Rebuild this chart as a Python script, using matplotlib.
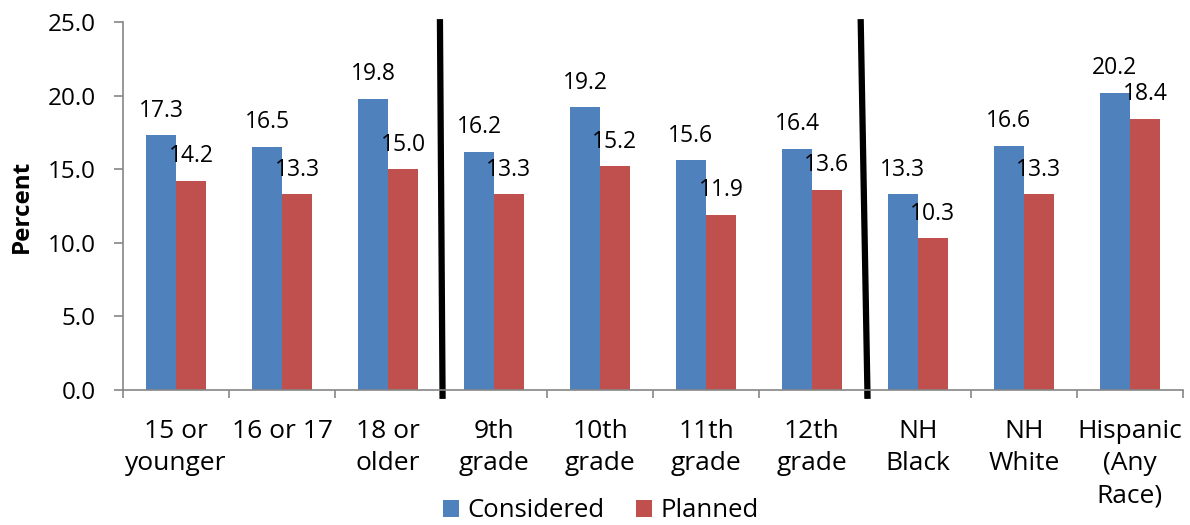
import numpy as np
import matplotlib.pyplot as plt
from matplotlib.lines import Line2D

plt.rcParams['font.family'] = ['Open Sans', 'DejaVu Sans']

categories = ['15 or\nyounger', '16 or 17', '18 or\nolder',
              '9th\ngrade', '10th\ngrade', '11th\ngrade', '12th\ngrade',
              'NH\nBlack', 'NH\nWhite', 'Hispanic\n(Any\nRace)']
considered = [17.3, 16.5, 19.8, 16.2, 19.2, 15.6, 16.4, 13.3, 16.6, 20.2]
planned = [14.2, 13.3, 15.0, 13.3, 15.2, 11.9, 13.6, 10.3, 13.3, 18.4]
group_sizes = [3, 4, 3]  # age / grade / race groups

blue = '#4F81BD'
red = '#C0504D'
grey = '#868686'

fig = plt.figure(figsize=(11.9, 5.25), dpi=100)
ax = fig.add_axes([0.1034, 0.257, 0.8906, 0.701])

x = np.arange(len(categories))
w = 0.283
b1 = ax.bar(x - w / 2, considered, w, color=blue, label='Considered')
b2 = ax.bar(x + w / 2, planned, w, color=red, label='Planned')

for bars, vals in [(b1, considered), (b2, planned)]:
    for rect, v in zip(bars, vals):
        ax.annotate('%.1f' % v, (rect.get_x() + rect.get_width() / 2, v),
                    xytext=(0, 13.5), textcoords='offset points',
                    ha='center', va='baseline', fontsize=16.5)

ax.set_xlim(-0.5, len(categories) - 0.5)
ax.set_ylim(0, 25)
ax.set_yticks(np.arange(0, 25.1, 5))
ax.set_yticklabels(['%.1f' % t for t in np.arange(0, 25.1, 5)], fontsize=17.5)
ax.set_ylabel('Percent', fontsize=17.5, fontweight='bold')
ax.yaxis.set_label_coords(-0.084, 0.5)

ax.set_xticks(x)
ax.set_xticklabels(categories, fontsize=19, linespacing=1.38, va='top')
ax.tick_params(axis='x', length=0, pad=21)
ax.set_xticks(np.arange(-0.5, len(categories), 1), minor=True)
ax.tick_params(axis='x', which='minor', length=6, color=grey, width=1.2)
ax.tick_params(axis='y', length=6.5, color=grey, width=1.2, pad=13)

for s in ['top', 'right']:
    ax.spines[s].set_visible(False)
for s in ['left', 'bottom']:
    ax.spines[s].set_color(grey)
    ax.spines[s].set_linewidth(1.2)

# thick group separators (slightly slanted like the original)
bounds = np.cumsum(group_sizes)[:-1] - 0.5
slants = [(-0.01, 0.015), (-0.04, 0.025)]
for b, (dt, db) in zip(bounds, slants):
    ax.add_line(Line2D([b + dt, b + db], [25.2, -0.6], color='black', lw=4.5,
                       clip_on=False, solid_capstyle='butt'))

fig.legend(*ax.get_legend_handles_labels(), loc='center',
           bbox_to_anchor=(0.505, 0.027), ncol=2, frameon=False,
           fontsize=18.5, handlelength=0.62, handleheight=0.62,
           handletextpad=0.35, columnspacing=1.2, borderpad=0)

fig.savefig('out.png', dpi=100)
